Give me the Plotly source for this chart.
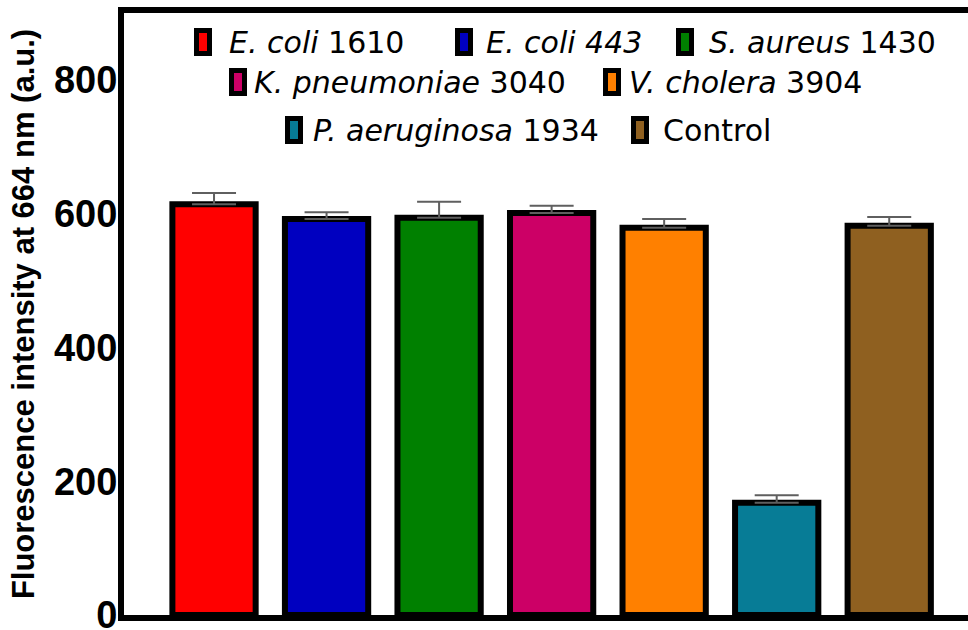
import plotly.graph_objects as go

# Bacterial strains tested and the mean fluorescence read at 664 nm
strains = ["E. coli 1610", "E. coli 443", "S. aureus 1430", "K. pneumoniae 3040",
           "V. cholera 3904", "P. aeruginosa 1934", "Control"]
legend_labels = ["<i>E. coli</i> 1610", "<i>E. coli 443</i>", "<i>S. aureus</i> 1430",
                 "<i>K. pneumoniae</i> 3040", "<i>V. cholera</i> 3904",
                 "<i>P. aeruginosa</i> 1934", "Control"]
intensity = [614, 592, 594, 601, 579, 168, 582]
intensity_err = [17, 10, 24, 11, 13, 11, 13]
bar_colors = ["#FF0000", "#0000C0", "#008000", "#CC0066", "#FF8000", "#077C96", "#8F6020"]
y_ticks = [0, 200, 400, 600, 800]

W, H = 968, 630
M_L, M_R, M_T, M_B = 124, 0, 13, 15


def px_to_paper(px, py):
    """Convert page pixel coordinates to paper coordinates."""
    pw = W - M_L - M_R
    ph = H - M_T - M_B
    return (px - M_L) / pw, 1 - (py - M_T) / ph


fig = go.Figure()
fig.add_trace(go.Bar(
    x=strains,
    y=intensity,
    width=0.74,
    marker=dict(color=bar_colors, line=dict(color="black", width=6)),
    error_y=dict(type="data", array=intensity_err, arrayminus=[0] * len(intensity_err),
                 symmetric=False, color="#5f5f5f", thickness=2, width=22),
    showlegend=False,
))

# Hand-placed key: three centred rows of colour swatches with labels
key_layout = [  # (swatch centre x, text start x, row centre y)
    (203, 227, 42), (464, 484, 42), (685, 707, 42),
    (238, 252, 82), (612, 627, 82),
    (294, 311, 130), (640, 661, 130),
]
shapes = []
annotations = []
for (sx, tx, ry), label, color in zip(key_layout, legend_labels, bar_colors):
    x0, y0 = px_to_paper(sx - 6.5, ry - 11.5)
    x1, y1 = px_to_paper(sx + 6.5, ry + 11.5)
    shapes.append(dict(type="rect", xref="paper", yref="paper", x0=x0, x1=x1, y0=y0, y1=y1,
                       fillcolor=color, line=dict(color="black", width=5)))
    ax, ay = px_to_paper(tx, ry)
    annotations.append(dict(xref="paper", yref="paper", x=ax, y=ay, xanchor="left",
                            yanchor="middle", text=label, showarrow=False,
                            font=dict(family="DejaVu Sans", size=30, color="black")))

fig.update_layout(
    width=W, height=H,
    margin=dict(l=M_L, r=M_R, t=M_T, b=M_B, autoexpand=False),
    paper_bgcolor="white", plot_bgcolor="white",
    bargap=0.26,
    shapes=shapes,
    annotations=annotations,
    xaxis=dict(range=[-0.8, 6.7], showticklabels=False, ticks="", showgrid=False,
               zeroline=False, showline=True, linecolor="black", linewidth=6, mirror=True),
    yaxis=dict(range=[0, 900], tickvals=y_ticks, ticks="", showgrid=False, zeroline=False,
               showline=True, linecolor="black", linewidth=6, mirror=False,
               tickfont=dict(family="Liberation Sans", size=38, color="black", weight="bold"),
               ticklabelstandoff=-7, ticklabeloverflow="allow",
               title=dict(text="Fluorescence intensity at 664 nm (a.u.)", standoff=12,
                          font=dict(family="Liberation Sans", size=31, color="black",
                                    weight="bold"))),
)

fig.write_html("out.html")
